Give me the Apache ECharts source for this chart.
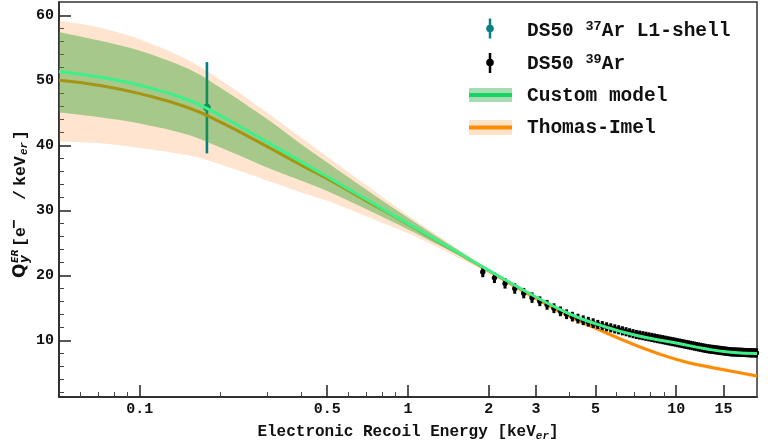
<!DOCTYPE html>
<html><head><meta charset="utf-8">
<script src="https://cdn.jsdelivr.net/npm/echarts@6/dist/echarts.min.js"></script>
<style>html,body{margin:0;padding:0;background:#fff}#c{width:768px;height:447px}</style>
</head><body><div id="c"></div>
<script>
const MONO = '"Liberation Mono", "DejaVu Sans Mono", monospace';
const SANS = '"DejaVu Sans", sans-serif';

// model curves (energy in keV_er)
const modelEnergy = [0.05,0.07,0.1,0.15,0.2,0.3,0.4,0.5,0.7,1,1.5,2,3,4,5,7,10,13,16,20];
const customMid  = [51.4,50.6,49.3,47.1,44.6,40.5,37.5,35.2,31.7,28.0,23.8,20.8,16.7,14.1,12.6,10.85,9.62,8.7,8.2,8.0];
const customLow  = [45.1,44.4,43.4,41.7,39.7,36.6,34.6,33.0,30.2,27.1,23.4,20.6,16.5,13.9,12.4,10.65,9.45,8.55,8.05,7.85];
const customHigh = [57.5,56.2,54.6,51.9,48.9,44.0,40.2,37.4,33.2,28.9,24.2,21.0,16.9,14.3,12.8,11.05,9.8,8.88,8.38,8.18];
const timMid  = [50.06,49.3,48.0,45.9,43.6,39.8,37.0,34.9,31.5,27.9,23.7,20.7,16.5,13.7,11.9,9.35,7.1,6.0,5.3,4.55];
const timLow  = [40.6,40.4,39.65,38.55,37.1,34.6,32.8,31.5,29.1,26.5,23.0,20.3,16.15,13.4,11.6,9.05,6.8,5.7,5.0,4.25];
const timHigh = [59.2,58.2,56.35,53.25,50.1,45.0,41.2,38.3,33.9,29.3,24.4,21.1,16.85,14.0,12.2,9.65,7.4,6.3,5.6,4.85];

// DS50 37Ar L1-shell
const ar37Energy = [0.178];
const ar37Value = [45.85];
const ar37Low = [38.8];
const ar37High = [52.85];

// DS50 39Ar
const ar39Energy = [1.9,2.1,2.3,2.5,2.7,2.9,3.1,3.3,3.5,3.7,3.9,4.1,4.3,4.5,4.7,4.9,5.1,5.3,5.5,5.7,5.9,6.1,6.3,6.5,6.7,6.9,7.1,7.3,7.5,7.7,7.9,8.1,8.3,8.5,8.7,8.9,9.1,9.3,9.5,9.7,9.9,10.1,10.3,10.5,10.7,10.9,11.1,11.3,11.5,11.7,11.9,12.1,12.3,12.5,12.7,12.9,13.1,13.3,13.5,13.7,13.9,14.1,14.3,14.5,14.7,14.9,15.1,15.3,15.5,15.7,15.9,16.1,16.3,16.5,16.7,16.9,17.1,17.3,17.5,17.7,17.9,18.1,18.3,18.5,18.7,18.9,19.1,19.3,19.5,19.7,19.9];
const ar39Value = [20.55,19.65,18.8,18.0,17.3,16.6,16.05,15.5,14.98,14.5,14.05,13.68,13.38,13.12,12.9,12.68,12.48,12.3,12.12,11.96,11.8,11.66,11.5,11.36,11.2,11.06,10.94,10.84,10.75,10.66,10.57,10.48,10.39,10.3,10.22,10.14,10.06,9.98,9.9,9.83,9.76,9.68,9.61,9.54,9.47,9.4,9.34,9.27,9.21,9.14,9.08,9.02,8.96,8.9,8.85,8.79,8.74,8.7,8.67,8.63,8.6,8.56,8.53,8.5,8.46,8.43,8.4,8.37,8.34,8.31,8.28,8.26,8.25,8.24,8.23,8.22,8.21,8.2,8.19,8.18,8.17,8.16,8.15,8.14,8.13,8.12,8.12,8.11,8.11,8.1,8.1];
const ar39Err = [0.8,0.8,0.8,0.8,0.8,0.8,0.75,0.75,0.75,0.75,0.75,0.75,0.75,0.75,0.75,0.75,0.7,0.7,0.7,0.7,0.7,0.7,0.7,0.7,0.7,0.7,0.7,0.7,0.7,0.7,0.7,0.7,0.7,0.7,0.7,0.7,0.7,0.7,0.7,0.7,0.7,0.7,0.7,0.7,0.7,0.7,0.7,0.7,0.7,0.7,0.7,0.7,0.7,0.7,0.7,0.7,0.7,0.7,0.7,0.7,0.7,0.7,0.7,0.7,0.7,0.7,0.7,0.7,0.7,0.7,0.7,0.7,0.7,0.7,0.7,0.7,0.7,0.7,0.7,0.7,0.7,0.7,0.7,0.7,0.7,0.7,0.7,0.7,0.7,0.7,0.7];

// ticks
const xMajorTicks = [0.1,0.5,1,2,3,5,10,15];
const xMinorTicks = [0.06,0.07,0.08,0.09,0.2,0.3,0.4,0.6,0.7,0.8,0.9,4,6,7,8,9];
const yMajorTicks = [10,20,30,40,50,60];
const yMinorTicks = [2,4,6,8,12,14,16,18,22,24,26,28,32,34,36,38,42,44,46,48,52,54,56,58];

const X_MIN = 0.05, X_MAX = 20, Y_MIN = 1.3, Y_MAX = 62.1;
const INK = '#111';

function pairs(xs, ys) { return xs.map((x, i) => [x, ys[i]]); }

// Catmull-Rom spline through pixel points -> cubic bezier path commands
function splineCmds(p) {
  let d = '';
  for (let i = 0; i < p.length - 1; i++) {
    const p0 = p[Math.max(i - 1, 0)], p1 = p[i], p2 = p[i + 1], p3 = p[Math.min(i + 2, p.length - 1)];
    const c1 = [p1[0] + (p2[0] - p0[0]) / 6, p1[1] + (p2[1] - p0[1]) / 6];
    const c2 = [p2[0] - (p3[0] - p1[0]) / 6, p2[1] - (p3[1] - p1[1]) / 6];
    d += ' C' + c1[0] + ' ' + c1[1] + ' ' + c2[0] + ' ' + c2[1] + ' ' + p2[0] + ' ' + p2[1];
  }
  return d;
}
function bandSeries(low, high, color, z) {
  return {
    type: 'custom', silent: true, z: z,
    data: [[modelEnergy[0], low[0]]], encode: { x: 0, y: 1 },
    renderItem: function (params, api) {
      const up = modelEnergy.map((x, i) => api.coord([x, high[i]]));
      const dn = modelEnergy.map((x, i) => api.coord([x, low[i]])).reverse();
      const d = 'M' + up[0][0] + ' ' + up[0][1] + splineCmds(up) +
        ' L' + dn[0][0] + ' ' + dn[0][1] + splineCmds(dn) + ' Z';
      return { type: 'path', shape: { pathData: d }, style: { fill: color } };
    }
  };
}
function errorBarSeries(xs, ys, lows, highs, color, r, w, z) {
  return {
    type: 'custom', z: z,
    data: xs.map((x, i) => [x, ys[i], lows[i], highs[i]]),
    encode: { x: 0, y: 1 },
    renderItem: function (params, api) {
      const p = api.coord([api.value(0), api.value(1)]);
      const lo = api.coord([api.value(0), api.value(2)]);
      const hi = api.coord([api.value(0), api.value(3)]);
      return { type: 'group', children: [
        { type: 'line', shape: { x1: p[0], y1: hi[1], x2: p[0], y2: lo[1] }, style: { stroke: color, lineWidth: w } },
        { type: 'circle', shape: { cx: p[0], cy: p[1], r: r }, style: { fill: color } }
      ]};
    }
  };
}

const chart = echarts.init(document.getElementById('c'), null, { renderer: 'canvas' });
const labelStyle = { fontFamily: MONO, fontSize: 15, fontWeight: 'bold', color: INK };
const LEG_FONT = 'bold 19.5px ' + MONO;
const SUP_FONT = 'bold 13.5px ' + MONO;

const option = {
  animation: false,
  grid: { left: 59, right: 11, top: 2, bottom: 45.5, show: true, borderColor: '#333', borderWidth: 1.5, backgroundColor: 'transparent' },
  xAxis: [
    { type: 'log', logBase: 10, min: X_MIN, max: X_MAX, position: 'bottom',
      axisLine: { show: true, lineStyle: { color: '#222', width: 1.5 } },
      axisTick: { show: true, inside: true, length: 12, customValues: xMajorTicks, lineStyle: { color: '#222', width: 1.5 } },
      axisLabel: Object.assign({ show: true, customValues: xMajorTicks, margin: 5,
        formatter: v => String(+(+v).toPrecision(3)) }, labelStyle),
      splitLine: { show: false }, minorTick: { show: false },
      name: 'Electronic Recoil Energy [keV{sub|er}]', nameLocation: 'middle', nameGap: 20,
      nameTextStyle: { fontFamily: MONO, fontSize: 16, fontWeight: 'bold', color: INK, lineHeight: 20,
        rich: { sub: { fontFamily: MONO, fontSize: 11, fontWeight: 'bold', fontStyle: 'italic', color: INK, verticalAlign: 'bottom', lineHeight: 20 } } }
    },
    { type: 'log', logBase: 10, min: X_MIN, max: X_MAX, position: 'bottom',
      axisLine: { show: false }, axisLabel: { show: false }, splitLine: { show: false },
      axisTick: { show: true, inside: true, length: 5, customValues: xMinorTicks, lineStyle: { color: '#444', width: 1 } } }
  ],
  yAxis: [
    { type: 'value', min: Y_MIN, max: Y_MAX,
      axisLine: { show: true, lineStyle: { color: '#222', width: 1.5 } },
      axisTick: { show: true, inside: true, length: 12, customValues: yMajorTicks, lineStyle: { color: '#222', width: 1.5 } },
      axisLabel: Object.assign({ show: true, customValues: yMajorTicks, margin: 5 }, labelStyle),
      splitLine: { show: false } },
    { type: 'value', min: Y_MIN, max: Y_MAX, position: 'left',
      axisLine: { show: false }, axisLabel: { show: false }, splitLine: { show: false },
      axisTick: { show: true, inside: true, length: 5, customValues: yMinorTicks, lineStyle: { color: '#444', width: 1 } } }
  ],
  series: [
    bandSeries(timLow, timHigh, 'rgba(255,127,14,0.2)', 2),
    { type: 'line', z: 2, data: pairs(modelEnergy, timMid), smooth: true, symbol: 'none', lineStyle: { color: '#ff8c00', width: 3 } },
    errorBarSeries(ar37Energy, ar37Value, ar37Low, ar37High, '#008080', 3.8, 2.6, 2),
    errorBarSeries(ar39Energy, ar39Value, ar39Value.map((v, i) => v - ar39Err[i]), ar39Value.map((v, i) => v + ar39Err[i]), '#000', 2.7, 3, 3),
    bandSeries(customLow, customHigh, 'rgba(44,160,44,0.42)', 4),
    { type: 'line', z: 5, data: pairs(modelEnergy, customMid), smooth: true, symbol: 'none', lineStyle: { color: '#3ef08a', width: 3 } }
  ],
  graphic: [
    // y axis title
    { type: 'group', x: 21, y: 278, rotation: Math.PI / 2, silent: true, children: [
      { type: 'text', x: 0, y: 0, style: { text: 'Q', font: 'bold 17px ' + SANS, fill: INK, verticalAlign: 'middle' } },
      { type: 'text', x: 15, y: -5, style: { text: 'ER', font: 'italic bold 9.5px ' + SANS, fill: INK, verticalAlign: 'middle' } },
      { type: 'text', x: 15, y: 3.5, style: { text: 'y', font: 'italic bold 12px ' + SANS, fill: INK, verticalAlign: 'middle' } },
      { type: 'text', x: 31, y: 0, style: { text: '[e', font: 'bold 16.5px ' + MONO, fill: INK, verticalAlign: 'middle' } },
      { type: 'text', x: 49, y: -6, style: { text: '\u2212', font: 'bold 16px ' + MONO, fill: INK, verticalAlign: 'middle' } },
      { type: 'text', x: 78, y: 0, style: { text: '/', font: 'bold 16.5px ' + MONO, fill: INK, verticalAlign: 'middle' } },
      { type: 'text', x: 92, y: 0, style: { text: 'keV', font: 'bold 16.5px ' + MONO, fill: INK, verticalAlign: 'middle' } },
      { type: 'text', x: 123, y: 3.5, style: { text: 'er', font: 'italic bold 11px ' + MONO, fill: INK, verticalAlign: 'middle' } },
      { type: 'text', x: 138, y: 0, style: { text: ']', font: 'bold 16.5px ' + MONO, fill: INK, verticalAlign: 'middle' } }
    ]},
    // legend
    { type: 'group', silent: true, children: [
      { type: 'line', shape: { x1: 490, y1: 18.5, x2: 490, y2: 38.5 }, style: { stroke: '#0a8080', lineWidth: 2.5 } },
      { type: 'circle', shape: { cx: 490, cy: 28.5, r: 3.8 }, style: { fill: '#0a8080' } },
      { type: 'text', x: 527, y: 31, style: { text: 'DS50 {sup|37}Ar L1-shell', font: LEG_FONT, fill: INK, verticalAlign: 'middle',
        rich: { sup: { font: SUP_FONT, fill: INK, verticalAlign: 'top', lineHeight: 23 } } } },
      { type: 'line', shape: { x1: 490, y1: 53, x2: 490, y2: 73 }, style: { stroke: '#000', lineWidth: 2.5 } },
      { type: 'circle', shape: { cx: 490, cy: 62.5, r: 3.8 }, style: { fill: '#000' } },
      { type: 'text', x: 527, y: 64, style: { text: 'DS50 {sup|39}Ar', font: LEG_FONT, fill: INK, verticalAlign: 'middle',
        rich: { sup: { font: SUP_FONT, fill: INK, verticalAlign: 'top', lineHeight: 23 } } } },
      { type: 'rect', shape: { x: 469, y: 88, width: 43, height: 14 }, style: { fill: '#a6dbb3' } },
      { type: 'line', shape: { x1: 469, y1: 95, x2: 512, y2: 95 }, style: { stroke: '#12d660', lineWidth: 4 } },
      { type: 'text', x: 527, y: 96, style: { text: 'Custom model', font: LEG_FONT, fill: INK, verticalAlign: 'middle' } },
      { type: 'rect', shape: { x: 469, y: 120, width: 43, height: 15 }, style: { fill: '#fde4c9' } },
      { type: 'line', shape: { x1: 469, y1: 127.5, x2: 512, y2: 127.5 }, style: { stroke: '#ff8c00', lineWidth: 4 } },
      { type: 'text', x: 527, y: 128.5, style: { text: 'Thomas-Imel', font: LEG_FONT, fill: INK, verticalAlign: 'middle' } }
    ]}
  ]
};
chart.setOption(option);
</script>
</body></html>
